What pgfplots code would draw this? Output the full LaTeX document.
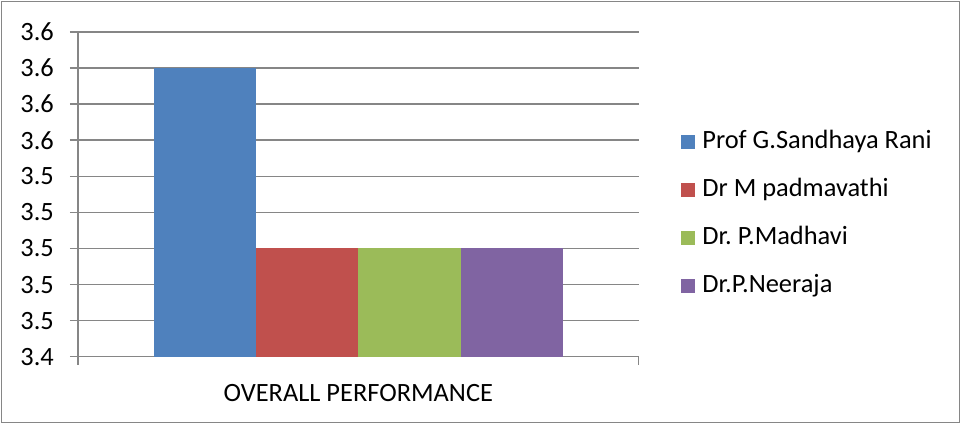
\documentclass[border=0pt]{standalone}
\usepackage{pgfplots}
\pgfplotsset{compat=1.18}
\usepackage{fontspec}
\setmainfont{Carlito}
\definecolor{cblue}{HTML}{4F81BD}
\definecolor{cred}{HTML}{C0504D}
\definecolor{cgreen}{HTML}{9BBB59}
\definecolor{cpurple}{HTML}{8064A2}
\definecolor{gridgray}{HTML}{868686}
\begin{document}
\fontsize{13.2}{15.5}\selectfont\frenchspacing
\begin{tikzpicture}[x=1pt,y=1pt]
\path[use as bounding box] (-39,-33.65) rectangle (441.5,178.35);
\draw[gridgray, line width=0.75pt] (-38.25,-32.9) rectangle (440.75,177.6);
\begin{axis}[
  at={(0,0)}, anchor=south west,
  scale only axis, width=280.35pt, height=162.35pt,
  xmin=-1, xmax=1, ymin=3.44, ymax=3.62,
  ytick={3.44,3.46,3.48,3.50,3.52,3.54,3.56,3.58,3.60,3.62},
  yticklabels={3.4,3.5,3.5,3.5,3.5,3.5,3.6,3.6,3.6,3.6},
  yticklabel style={xshift=-3.5pt},
  xtick={-1,1}, xticklabels={},
  axis x line*=bottom, axis y line*=left,
  axis line style={gridgray, line width=0.75pt, -},
  ymajorgrids, grid style={gridgray, line width=0.75pt},
  tick style={gridgray, line width=0.75pt},
  tick align=outside, major tick length=4pt,
  ybar=0pt, bar width=51.1pt,
  clip mode=individual,
  legend style={draw=none, fill=none, at={(1.0754,0.4395)}, anchor=west,
    inner sep=0pt, row sep=12.5pt, column sep=3.5pt,
    nodes={inner sep=0pt, text height=9pt, text depth=2.5pt}},
  legend cell align=left,
  legend image code/.code={\fill[#1] (0pt,-3.5pt) rectangle (7pt,3.5pt);},
]
\addplot[fill=cblue, draw=none] coordinates {(0,3.60)};
\addplot[fill=cred, draw=none] coordinates {(0,3.50)};
\addplot[fill=cgreen, draw=none] coordinates {(0,3.50)};
\addplot[fill=cpurple, draw=none] coordinates {(0,3.50)};
\legend{Prof G.Sandhaya Rani, Dr M padmavathi, Dr. P.Madhavi, Dr.P.Neeraja}
\node at (axis cs:0,3.44) [yshift=-18pt] {OVERALL PERFORMANCE};
\end{axis}
\end{tikzpicture}
\end{document}
